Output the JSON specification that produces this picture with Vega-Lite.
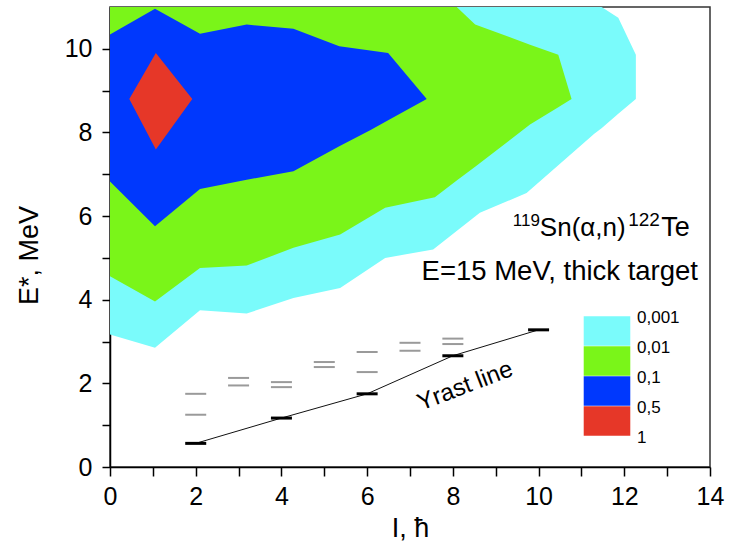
{
  "$schema": "https://vega.github.io/schema/vega-lite/v6.json",
  "width": 600,
  "height": 460,
  "autosize": {"type": "none"},
  "padding": {"left": 110, "top": 7, "right": 28, "bottom": 74},
  "background": "white",
  "datasets": {
    "regions": [
      {"level": "0,001", "x": 0, "lo": 3.17, "hi": 11},
      {"level": "0,001", "x": 1.05, "lo": 2.85, "hi": 11},
      {"level": "0,001", "x": 2.1, "lo": 3.75, "hi": 11},
      {"level": "0,001", "x": 3.19, "lo": 3.67, "hi": 11},
      {"level": "0,001", "x": 4.28, "lo": 4.04, "hi": 11},
      {"level": "0,001", "x": 5.37, "lo": 4.28, "hi": 11},
      {"level": "0,001", "x": 6.42, "lo": 5.0, "hi": 11},
      {"level": "0,001", "x": 7.54, "lo": 5.2, "hi": 11},
      {"level": "0,001", "x": 8.63, "lo": 6.08, "hi": 11},
      {"level": "0,001", "x": 9.72, "lo": 6.55, "hi": 11},
      {"level": "0,001", "x": 11.3, "lo": 7.97, "hi": 11},
      {"level": "0,001", "x": 11.47, "lo": 8.1, "hi": 11},
      {"level": "0,001", "x": 11.86, "lo": 8.45, "hi": 10.74},
      {"level": "0,001", "x": 12.27, "lo": 8.8, "hi": 9.86},
      {"level": "0,01", "x": 0, "lo": 4.56, "hi": 11},
      {"level": "0,01", "x": 1.05, "lo": 3.96, "hi": 11},
      {"level": "0,01", "x": 2.1, "lo": 4.76, "hi": 11},
      {"level": "0,01", "x": 3.19, "lo": 4.82, "hi": 11},
      {"level": "0,01", "x": 4.28, "lo": 5.24, "hi": 11},
      {"level": "0,01", "x": 5.37, "lo": 5.56, "hi": 11},
      {"level": "0,01", "x": 6.42, "lo": 6.2, "hi": 11},
      {"level": "0,01", "x": 7.58, "lo": 6.45, "hi": 11},
      {"level": "0,01", "x": 8.09, "lo": 6.85, "hi": 11},
      {"level": "0,01", "x": 8.52, "lo": 7.18, "hi": 10.58},
      {"level": "0,01", "x": 9.8, "lo": 8.19, "hi": 10.1},
      {"level": "0,01", "x": 10.46, "lo": 8.6, "hi": 9.86},
      {"level": "0,01", "x": 10.77, "lo": 8.8, "hi": 8.8},
      {"level": "0,1", "x": 0, "lo": 6.83, "hi": 10.34},
      {"level": "0,1", "x": 1.05, "lo": 5.76, "hi": 10.96},
      {"level": "0,1", "x": 2.1, "lo": 6.65, "hi": 10.36},
      {"level": "0,1", "x": 3.19, "lo": 6.87, "hi": 10.58},
      {"level": "0,1", "x": 4.28, "lo": 7.07, "hi": 10.48},
      {"level": "0,1", "x": 5.35, "lo": 7.67, "hi": 10.06},
      {"level": "0,1", "x": 6.07, "lo": 8.05, "hi": 9.96},
      {"level": "0,1", "x": 6.49, "lo": 8.29, "hi": 9.9},
      {"level": "0,1", "x": 7.39, "lo": 8.8, "hi": 8.8},
      {"level": "0,5", "x": 0.45, "lo": 8.8, "hi": 8.8},
      {"level": "0,5", "x": 1.07, "lo": 7.59, "hi": 9.9},
      {"level": "0,5", "x": 1.92, "lo": 8.8, "hi": 8.8}
    ],
    "states": [
      {"kind": "yrast", "x": 2, "E": 0.565},
      {"kind": "yrast", "x": 4, "E": 1.17},
      {"kind": "yrast", "x": 6, "E": 1.75},
      {"kind": "yrast", "x": 8, "E": 2.66},
      {"kind": "yrast", "x": 10, "E": 3.28},
      {"kind": "other", "x": 2, "E": 1.25},
      {"kind": "other", "x": 2, "E": 1.75},
      {"kind": "other", "x": 3, "E": 1.95},
      {"kind": "other", "x": 3, "E": 2.13},
      {"kind": "other", "x": 4, "E": 1.91},
      {"kind": "other", "x": 4, "E": 2.03},
      {"kind": "other", "x": 5, "E": 2.39},
      {"kind": "other", "x": 5, "E": 2.51},
      {"kind": "other", "x": 6, "E": 2.27},
      {"kind": "other", "x": 6, "E": 2.75},
      {"kind": "other", "x": 7, "E": 2.78},
      {"kind": "other", "x": 7, "E": 2.97},
      {"kind": "other", "x": 8, "E": 2.94},
      {"kind": "other", "x": 8, "E": 3.07}
    ]
  },
  "layer": [
    {
      "data": {"name": "regions"},
      "transform": [{"filter": "datum.level === '0,001'"}],
      "mark": {"type": "area", "orient": "vertical", "opacity": 1, "clip": true},
      "encoding": {
        "x": {"field": "x", "type": "quantitative",
          "scale": {"domain": [0, 14], "nice": false, "zero": false},
          "axis": {"orient": "bottom", "values": [0, 1, 2, 3, 4, 5, 6, 7, 8, 9, 10, 11, 12, 13, 14],
            "labelExpr": "datum.value % 2 === 0 ? datum.label : ''",
            "tickSize": 9,
            "encode": {"ticks": {"update": {"y2": {"signal": "datum.value % 2 === 1 ? 6 : 9"}}}},
            "title": "I, ħ", "titleFontSize": 27, "titlePadding": 6}},
        "y": {"field": "lo", "type": "quantitative", "stack": null,
          "scale": {"domain": [0, 11], "nice": false, "zero": false},
          "axis": {"orient": "left", "values": [0, 1, 2, 3, 4, 5, 6, 7, 8, 9, 10],
            "labelExpr": "datum.value % 2 === 0 ? datum.label : ''",
            "tickSize": 8,
            "encode": {"ticks": {"update": {"x2": {"signal": "datum.value % 2 === 1 ? -5 : -8"}}}},
            "title": "E*, MeV", "titleFontSize": 27, "titlePadding": 21, "titleY": 248}},
        "y2": {"field": "hi"},
        "color": {"field": "level", "type": "nominal",
          "scale": {"domain": ["0,001", "0,01", "0,1", "0,5", "1"], "range": ["#7afbfb", "#7af519", "#0038fd", "#e63728", "transparent"]},
          "legend": {"orient": "none", "legendX": 482, "legendY": 309, "title": null, "padding": 0, "rowPadding": -7.7,
            "symbolType": "M-1.59,-1H1.59V1H-1.59Z", "symbolSize": 858, "symbolStrokeWidth": 0, "symbolOpacity": 1,
            "labelFontSize": 17, "labelOffset": 15, "labelColor": "#000", "labelLimit": 0,
            "encode": {"labels": {"update": {"dy": {"value": -12.6}}}}}}
      }
    },
    {
      "data": {"name": "regions"},
      "transform": [{"filter": "datum.level === '0,01'"}],
      "mark": {"type": "area", "orient": "vertical", "opacity": 1, "clip": true},
      "encoding": {
        "x": {"field": "x", "type": "quantitative", "axis": null},
        "y": {"field": "lo", "type": "quantitative", "stack": null, "axis": null},
        "y2": {"field": "hi"},
        "color": {"field": "level", "type": "nominal", "legend": null}
      }
    },
    {
      "data": {"name": "regions"},
      "transform": [{"filter": "datum.level === '0,1'"}],
      "mark": {"type": "area", "orient": "vertical", "opacity": 1, "clip": true},
      "encoding": {
        "x": {"field": "x", "type": "quantitative", "axis": null},
        "y": {"field": "lo", "type": "quantitative", "stack": null, "axis": null},
        "y2": {"field": "hi"},
        "color": {"field": "level", "type": "nominal", "legend": null}
      }
    },
    {
      "data": {"name": "regions"},
      "transform": [{"filter": "datum.level === '0,5'"}],
      "mark": {"type": "area", "orient": "vertical", "opacity": 1, "clip": true},
      "encoding": {
        "x": {"field": "x", "type": "quantitative", "axis": null},
        "y": {"field": "lo", "type": "quantitative", "stack": null, "axis": null},
        "y2": {"field": "hi"},
        "color": {"field": "level", "type": "nominal", "legend": null}
      }
    },
    {
      "data": {"name": "states"},
      "transform": [{"filter": "datum.kind === 'yrast'"}],
      "mark": {"type": "line", "color": "#111", "strokeWidth": 1},
      "encoding": {
        "x": {"field": "x", "type": "quantitative", "axis": null},
        "y": {"field": "E", "type": "quantitative", "axis": null}
      }
    },
    {
      "data": {"name": "states"},
      "transform": [{"filter": "datum.kind === 'other'"}],
      "mark": {"type": "tick", "orient": "horizontal", "size": 21, "thickness": 2, "color": "#9a9a9a", "opacity": 1},
      "encoding": {
        "x": {"field": "x", "type": "quantitative", "axis": null},
        "y": {"field": "E", "type": "quantitative", "axis": null}
      }
    },
    {
      "data": {"name": "states"},
      "transform": [{"filter": "datum.kind === 'yrast'"}],
      "mark": {"type": "tick", "orient": "horizontal", "size": 21, "thickness": 3, "color": "#000", "opacity": 1},
      "encoding": {
        "x": {"field": "x", "type": "quantitative", "axis": null},
        "y": {"field": "E", "type": "quantitative", "axis": null}
      }
    },
    {
      "data": {"values": [{}]},
      "mark": {"type": "text", "text": "Yrast line", "fontSize": 24, "angle": -21, "align": "center", "baseline": "middle", "color": "#000"},
      "encoding": {"x": {"datum": 8.29, "axis": null}, "y": {"datum": 1.93, "axis": null}}
    },
    {
      "data": {"values": [{}]},
      "mark": {"type": "text", "text": "119", "fontSize": 17, "align": "right", "baseline": "alphabetic", "color": "#000"},
      "encoding": {"x": {"datum": 10.03, "axis": null}, "y": {"datum": 5.76, "axis": null}}
    },
    {
      "data": {"values": [{}]},
      "mark": {"type": "text", "text": "Sn(α,n)", "fontSize": 26, "align": "left", "baseline": "alphabetic", "color": "#000"},
      "encoding": {"x": {"datum": 10.03, "axis": null}, "y": {"datum": 5.52, "axis": null}}
    },
    {
      "data": {"values": [{}]},
      "mark": {"type": "text", "text": "122", "fontSize": 19, "align": "left", "baseline": "alphabetic", "color": "#000"},
      "encoding": {"x": {"datum": 12.09, "axis": null}, "y": {"datum": 5.76, "axis": null}}
    },
    {
      "data": {"values": [{}]},
      "mark": {"type": "text", "text": "Te", "fontSize": 27, "align": "left", "baseline": "alphabetic", "color": "#000"},
      "encoding": {"x": {"datum": 12.86, "axis": null}, "y": {"datum": 5.52, "axis": null}}
    },
    {
      "data": {"values": [{}]},
      "mark": {"type": "text", "text": "E=15 MeV, thick target", "fontSize": 27.5, "align": "right", "baseline": "alphabetic", "color": "#000"},
      "encoding": {"x": {"datum": 13.72, "axis": null}, "y": {"datum": 4.48, "axis": null}}
    }
  ],
  "resolve": {"axis": {"x": "independent", "y": "independent"}},
  "config": {
    "font": "Liberation Sans",
    "view": {"stroke": "#333", "strokeWidth": 1.5},
    "axis": {
      "grid": false,
      "domainColor": "#000",
      "domainWidth": 1.5,
      "tickColor": "#000",
      "tickWidth": 1.5,
      "labelFont": "Liberation Sans",
      "labelFontSize": 25,
      "labelColor": "#000",
      "labelPadding": 8,
      "labelFlush": false,
      "labelOverlap": false,
      "titleFont": "Liberation Sans",
      "titleFontWeight": "normal",
      "titleColor": "#000"
    },
    "axisY": {"labelPadding": 10}
  }
}
